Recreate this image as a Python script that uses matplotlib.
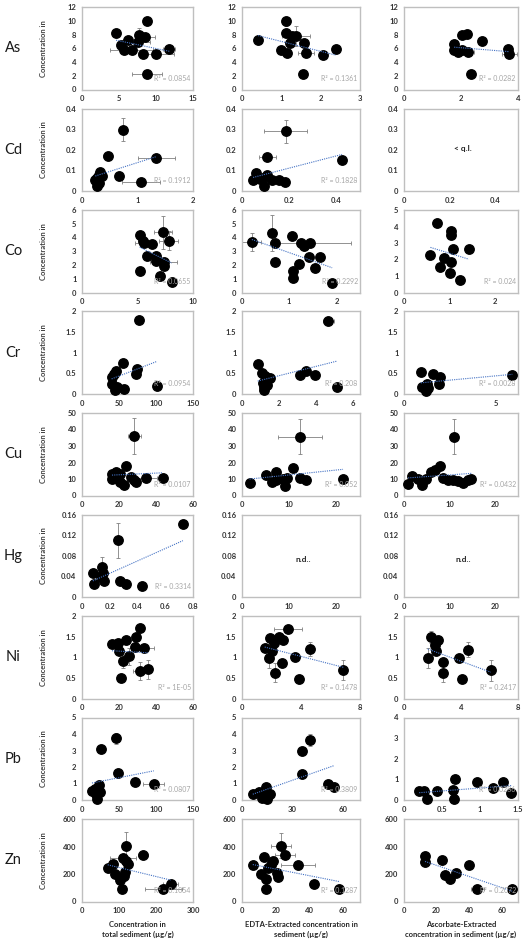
import numpy as np
import matplotlib.pyplot as plt

plt.rcParams['font.family'] = ['Lato', 'DejaVu Sans']

# ---- data ----
as_tot_x = [4.6, 8.8, 5.3, 6.2, 5.7, 6.7, 7.5, 7.7, 8.5, 8.3, 10.0, 11.8, 8.8]
as_tot_y = [8.2, 9.9, 6.5, 7.2, 5.8, 5.7, 6.9, 7.9, 7.7, 5.2, 5.1, 5.85, 2.3]
as_tot_xerr = [0, 0.3, 0, 0, 0, 2.9, 1.7, 0, 1.3, 0.5, 2.4, 0.8, 2.0]
as_tot_yerr = [0, 0.3, 0, 0, 0, 0, 0.5, 1.0, 0, 0, 0, 0, 0]
as_edta_x = [0.41, 1.11, 1.11, 1.28, 1.37, 1.21, 1.0, 1.15, 1.58, 1.62, 1.54, 2.05, 2.39]
as_edta_y = [7.2, 9.9, 8.2, 7.8, 7.8, 6.7, 5.75, 5.3, 6.8, 5.3, 2.3, 5.0, 5.9]
as_edta_xerr = [0, 0, 0, 0, 0.35, 0, 0, 0, 0.1, 0.2, 0, 0.1, 0.1]
as_edta_yerr = [0, 0.6, 0, 0, 1.5, 0, 0, 0, 0, 0, 0, 0, 0]
as_asc_x = [1.76, 1.76, 1.91, 2.03, 2.05, 2.2, 2.24, 2.75, 2.36, 3.64, 3.70]
as_asc_y = [6.6, 5.75, 5.4, 5.8, 7.9, 8.1, 5.4, 7.1, 2.3, 5.9, 5.1]
as_asc_xerr = [0, 0, 0, 0, 0, 0, 0.2, 0, 0, 0, 0.25]

cd_tot_x = [0.74, 0.46, 1.34, 0.33, 0.36, 0.27, 0.24, 0.30, 0.27, 0.66, 1.06, 0.30]
cd_tot_y = [0.297, 0.17, 0.159, 0.09, 0.074, 0.063, 0.053, 0.041, 0.023, 0.071, 0.046, 0.08]
cd_tot_xerr = [0.05, 0.08, 0.33, 0, 0, 0, 0, 0, 0, 0, 0.34, 0]
cd_tot_yerr = [0.055, 0, 0, 0, 0, 0, 0, 0, 0, 0, 0, 0]
cd_edta_x = [0.185, 0.108, 0.424, 0.061, 0.047, 0.09, 0.104, 0.125, 0.158, 0.182, 0.094, 0.075]
cd_edta_y = [0.29, 0.164, 0.151, 0.085, 0.052, 0.061, 0.077, 0.052, 0.052, 0.044, 0.023, 0.06]
cd_edta_xerr = [0.09, 0.035, 0, 0, 0, 0, 0, 0, 0, 0, 0, 0]
cd_edta_yerr = [0.056, 0, 0, 0, 0, 0, 0, 0, 0, 0, 0, 0]

co_tot_x = [5.2, 5.5, 5.6, 6.3, 7.3, 7.8, 5.9, 6.7, 6.7, 7.35, 7.35, 5.2, 7.0, 8.1]
co_tot_y = [4.2, 3.76, 3.6, 3.5, 4.4, 3.76, 2.69, 2.62, 2.26, 2.19, 1.9, 1.6, 1.19, 0.79]
co_tot_xerr = [0, 0, 0.8, 0, 0.8, 0.85, 0, 0, 0, 1.2, 0, 0, 0, 0]
co_tot_yerr = [0, 0, 0, 0, 1.2, 0.7, 0, 0, 0, 0, 0, 0, 0, 0]
co_edta_x = [0.21, 0.63, 0.70, 0.70, 1.06, 1.25, 1.32, 1.45, 1.43, 1.66, 1.2, 1.55, 1.07, 1.07, 1.91]
co_edta_y = [3.69, 4.33, 3.57, 2.19, 4.1, 3.62, 3.38, 3.62, 2.57, 2.57, 2.07, 1.79, 1.55, 1.07, 0.71]
co_edta_xerr = [0.2, 0, 0, 0, 0, 0, 0, 0.85, 0, 0, 0, 0, 0, 0, 0]
co_edta_yerr = [0.65, 1.3, 0, 0, 0, 0, 0, 0, 0, 0, 0, 0, 0, 0, 0]
co_asc_x = [0.73, 1.02, 1.02, 0.58, 0.88, 1.07, 1.42, 1.04, 0.80, 1.0, 1.22]
co_asc_y = [4.19, 3.73, 3.47, 2.26, 2.12, 2.62, 2.62, 1.85, 1.55, 1.17, 0.75]

cr_tot_x = [77, 56, 45.5, 43, 40, 74, 73.5, 41, 47, 44, 57, 101]
cr_tot_y = [1.80, 0.75, 0.55, 0.48, 0.42, 0.60, 0.49, 0.25, 0.16, 0.10, 0.11, 0.20]
cr_edta_x = [4.68, 0.85, 1.08, 1.26, 1.5, 1.14, 1.17, 1.17, 1.35, 3.15, 3.48, 3.96, 5.14]
cr_edta_y = [1.77, 0.72, 0.50, 0.44, 0.38, 0.27, 0.17, 0.09, 0.23, 0.45, 0.56, 0.45, 0.17]
cr_edta_xerr = [0.3, 0, 0, 0, 0, 0, 0, 0, 0, 0, 0, 0, 0]
cr_asc_x = [0.92, 1.55, 1.95, 1.92, 1.23, 0.96, 1.19, 1.32, 5.89]
cr_asc_y = [0.54, 0.48, 0.42, 0.25, 0.25, 0.17, 0.07, 0.15, 0.47]

cu_tot_x = [28.3, 24, 18.6, 16.2, 16.2, 20.7, 26.7, 27.9, 20.4, 22.9, 29.4, 34.6, 43.8, 19]
cu_tot_y = [36.1, 17.8, 14.3, 13.3, 9.8, 12.9, 11.2, 9.2, 8.2, 6.1, 8.2, 10.6, 10.8, 10.8]
cu_tot_xerr = [3.6, 0, 0, 0, 0, 0, 0, 0, 0, 0, 0, 6, 0, 0]
cu_tot_yerr = [10.7, 0, 0, 0, 0, 0, 0, 0, 0, 0, 0, 0, 0, 0]
cu_edta_x = [12.3, 1.6, 5.05, 7.2, 6.3, 7.3, 8.6, 9.1, 9.6, 10.7, 12.2, 13.6, 21.4]
cu_edta_y = [35.7, 7.6, 12.2, 14.3, 8.2, 9.6, 9.8, 5.5, 10.8, 16.7, 10.8, 9.6, 9.8]
cu_edta_xerr = [4.6, 0, 0, 0, 0, 0, 0, 0, 0, 0, 0, 0, 0]
cu_edta_yerr = [10.7, 0, 0, 0, 0, 0, 0, 0, 0, 0, 0, 0, 0]
cu_asc_x = [11, 0.9, 1.85, 3.1, 3.85, 4.8, 5.9, 6.7, 7.8, 8.5, 9.6, 10.7, 11.9, 13, 14.1, 14.8]
cu_asc_y = [35.7, 7.1, 11.6, 10.2, 6.1, 10.2, 14.3, 15.7, 17.8, 10.8, 9.2, 9.2, 8.8, 7.6, 9.2, 9.8]
cu_asc_yerr = [10.7, 0, 0, 0, 0, 0, 0, 0, 0, 0, 0, 0, 0, 0, 0, 0]

hg_tot_x = [0.727, 0.26, 0.078, 0.145, 0.15, 0.09, 0.162, 0.138, 0.277, 0.32, 0.436]
hg_tot_y = [0.142, 0.110, 0.046, 0.059, 0.046, 0.025, 0.031, 0.039, 0.031, 0.025, 0.021]
hg_tot_yerr = [0.008, 0.034, 0, 0.018, 0, 0, 0, 0, 0, 0, 0]

ni_tot_x = [31.5, 24, 29.4, 16.2, 19.3, 19.8, 28.8, 33.7, 25.2, 22.2, 31.5, 35.7, 21]
ni_tot_y = [1.72, 1.42, 1.50, 1.33, 1.34, 1.16, 1.25, 1.22, 1.02, 0.90, 0.66, 0.71, 0.50]
ni_tot_xerr = [0, 0, 2, 0, 0, 0, 0, 5, 0, 0, 4, 0, 0]
ni_tot_yerr = [0, 0, 0, 0, 0, 0, 0, 0, 0.2, 0.15, 0.22, 0.23, 0]
ni_edta_x = [3.13, 1.93, 2.52, 2.8, 1.54, 2.15, 2.06, 1.84, 2.68, 3.58, 4.6, 2.22, 3.88, 6.87]
ni_edta_y = [1.68, 1.46, 1.49, 1.42, 1.22, 1.34, 1.14, 0.98, 0.86, 1.0, 1.2, 0.63, 0.48, 0.70]
ni_edta_xerr = [0.94, 0, 0, 0, 0, 0, 0, 0, 0, 0, 0, 0, 0, 0]
ni_edta_yerr = [0, 0, 0, 0, 0, 0, 0, 0.23, 0, 0, 0.18, 0.22, 0, 0.24]
ni_asc_x = [1.86, 2.39, 2.15, 2.27, 1.67, 2.74, 2.74, 3.87, 4.49, 4.06, 6.09]
ni_asc_y = [1.49, 1.42, 1.30, 1.14, 0.98, 0.88, 0.63, 0.98, 1.18, 0.48, 0.68]
ni_asc_yerr = [0.15, 0, 0, 0, 0.25, 0, 0.22, 0, 0.18, 0, 0.25]

pb_tot_x = [46.4, 25.7, 48.6, 72, 97, 22.5, 13.5, 17, 24.8, 19.4, 20]
pb_tot_y = [3.74, 3.12, 1.66, 1.11, 0.95, 0.91, 0.55, 0.65, 0.51, 0.34, 0.06]
pb_tot_xerr = [0, 0, 0, 0, 14, 0, 0, 0, 0, 0, 0]
pb_tot_yerr = [0.35, 0, 0, 0, 0, 0, 0, 0, 0, 0, 0]
pb_edta_x = [40.5, 35.3, 35.7, 51.3, 54.8, 6.4, 9.9, 14.2, 11.9, 14.6, 16.6, 13.3]
pb_edta_y = [3.62, 2.98, 1.56, 0.95, 0.79, 0.34, 0.51, 0.79, 0.14, 0.04, 0.34, 0.34]
pb_edta_yerr = [0.35, 0, 0, 0, 0, 0, 0, 0, 0, 0, 0, 0]
pb_asc_x = [0.20, 0.26, 0.30, 0.44, 0.64, 0.67, 0.66, 0.96, 1.17, 1.30, 1.41]
pb_asc_y = [0.42, 0.46, 0.03, 0.42, 0.49, 1.01, 0.03, 0.88, 0.59, 0.89, 0.32]

zn_tot_x = [120, 165, 111, 120, 124, 84, 69.5, 90, 117, 113, 102, 108, 219, 240]
zn_tot_y = [407, 335, 318, 294, 270, 275, 246, 199, 211, 187, 158, 91, 91, 127]
zn_tot_xerr = [0, 14, 36, 0, 0, 0, 0, 0, 0, 0, 0, 0, 50, 20]
zn_tot_yerr = [95, 0, 0, 0, 0, 0, 0, 0, 0, 40, 0, 0, 0, 0]
zn_edta_x = [23, 25.5, 13.3, 18.5, 17.2, 6.4, 15.2, 33.3, 11.3, 21, 21.6, 14.2, 14.2, 42.5, 57.5]
zn_edta_y = [405, 336, 322, 293, 264, 269, 245, 269, 197, 209, 178, 161, 89, 130, 89]
zn_edta_xerr = [6, 6, 0, 0, 0, 0, 0, 10, 0, 0, 0, 0, 0, 0, 0]
zn_edta_yerr = [90, 0, 0, 0, 0, 0, 0, 0, 0, 0, 0, 0, 0, 0, 0]
zn_asc_x = [12.9, 12.9, 23.4, 40.1, 31.7, 25, 28.2, 44.9, 66.4]
zn_asc_y = [329, 288, 300, 269, 209, 190, 166, 94, 94]
zn_asc_xerr = [0, 0, 0, 0, 0, 0, 0, 4, 0]

elements = ['As', 'Cd', 'Co', 'Cr', 'Cu', 'Hg', 'Ni', 'Pb', 'Zn']

# (x, y, xerr, yerr) per panel, None = empty panel
panels = [
    [(as_tot_x, as_tot_y, as_tot_xerr, as_tot_yerr), (as_edta_x, as_edta_y, as_edta_xerr, as_edta_yerr), (as_asc_x, as_asc_y, as_asc_xerr, None)],
    [(cd_tot_x, cd_tot_y, cd_tot_xerr, cd_tot_yerr), (cd_edta_x, cd_edta_y, cd_edta_xerr, cd_edta_yerr), None],
    [(co_tot_x, co_tot_y, co_tot_xerr, co_tot_yerr), (co_edta_x, co_edta_y, co_edta_xerr, co_edta_yerr), (co_asc_x, co_asc_y, None, None)],
    [(cr_tot_x, cr_tot_y, None, None), (cr_edta_x, cr_edta_y, cr_edta_xerr, None), (cr_asc_x, cr_asc_y, None, None)],
    [(cu_tot_x, cu_tot_y, cu_tot_xerr, cu_tot_yerr), (cu_edta_x, cu_edta_y, cu_edta_xerr, cu_edta_yerr), (cu_asc_x, cu_asc_y, None, cu_asc_yerr)],
    [(hg_tot_x, hg_tot_y, None, hg_tot_yerr), None, None],
    [(ni_tot_x, ni_tot_y, ni_tot_xerr, ni_tot_yerr), (ni_edta_x, ni_edta_y, ni_edta_xerr, ni_edta_yerr), (ni_asc_x, ni_asc_y, None, ni_asc_yerr)],
    [(pb_tot_x, pb_tot_y, pb_tot_xerr, pb_tot_yerr), (pb_edta_x, pb_edta_y, None, pb_edta_yerr), (pb_asc_x, pb_asc_y, None, None)],
    [(zn_tot_x, zn_tot_y, zn_tot_xerr, zn_tot_yerr), (zn_edta_x, zn_edta_y, zn_edta_xerr, zn_edta_yerr), (zn_asc_x, zn_asc_y, zn_asc_xerr, None)],
]

r2_labels = [
    ['0.0854', '0.1361', '0.0282'],
    ['0.1912', '0.1828', None],
    ['0.0655', '0.2292', '0.024'],
    ['0.0954', '0.208', '0.0028'],
    ['0.0107', '0.052', '0.0432'],
    ['0.3314', None, None],
    ['1E-05', '0.1478', '0.2417'],
    ['0.0807', '0.3809', '0.0286'],
    ['0.1054', '0.1287', '0.2072'],
]
empty_labels = {(1, 2): '< q.l.', (5, 1): 'n.d..', (5, 2): 'n.d..'}

y_ticks = [
    [np.arange(0, 13, 2)] * 3,
    [np.arange(0, 0.41, 0.1)] * 3,
    [np.arange(0, 7, 1), np.arange(0, 7, 1), np.arange(0, 6, 1)],
    [np.arange(0, 2.01, 0.5)] * 3,
    [np.arange(0, 51, 10)] * 3,
    [np.arange(0, 0.161, 0.04)] * 3,
    [np.arange(0, 2.01, 0.5)] * 3,
    [np.arange(0, 6, 1), np.arange(0, 6, 1), np.arange(0, 5, 1)],
    [np.arange(0, 601, 200)] * 3,
]
x_max = [
    [15, 3, 4], [2, 0.5, 0.5], [10, 2.5, 2.5], [150, 6.4, 6.2], [60, 25, 25],
    [0.8, 25, 25], [60, 8, 8], [150, 70, 1.5], [300, 70, 70],
]
x_ticks = [
    [[0, 5, 10, 15], [0, 1, 2, 3], [0, 2, 4]],
    [[0, 1, 2], [0, 0.2, 0.4], [0, 0.2, 0.4]],
    [[0, 5, 10], [0, 1, 2], [0, 1, 2]],
    [[0, 50, 100, 150], [0, 2, 4, 6], [0, 5]],
    [[0, 20, 40, 60], [0, 10, 20], [0, 10, 20]],
    [[0, 0.2, 0.4, 0.6, 0.8], [0, 10, 20], [0, 10, 20]],
    [[0, 20, 40, 60], [0, 4, 8], [0, 4, 8]],
    [[0, 50, 100, 150], [0, 30, 60], [0, 0.5, 1, 1.5]],
    [[0, 100, 200, 300], [0, 20, 40, 60], [0, 20, 40, 60]],
]
x_titles = ['Concentration in\ntotal sediment (µg/g)',
            'EDTA-Extracted concentration in\nsediment (µg/g)',
            'Ascorbate-Extracted\nconcentration in sediment (µg/g)']

W, H = 532, 948
fig = plt.figure(figsize=(W / 100, H / 100), dpi=100)

col_left = [82, 242, 404]
col_width = [111, 118, 114]


def fmt(v):
    return f'{round(v, 4):g}'


for r, el in enumerate(elements):
    top = 7 + 101.5 * r
    h = 82.5
    for c in range(3):
        ax = fig.add_axes([col_left[c] / W, 1 - (top + h) / H, col_width[c] / W, h / H])
        yt = y_ticks[r][c]
        ax.set_ylim(0, yt[-1])
        ax.set_xlim(0, x_max[r][c])
        ax.set_yticks(yt)
        ax.set_yticklabels([fmt(v) for v in yt])
        ax.set_xticks(x_ticks[r][c])
        ax.set_xticklabels([fmt(v) for v in x_ticks[r][c]])
        ax.tick_params(length=0, pad=4, labelsize=5.5, labelcolor='#333333')
        for lab in ax.get_xticklabels() + ax.get_yticklabels():
            lab.set_fontweight('bold')
        for sp in ax.spines.values():
            sp.set_color('#BFBFBF')
            sp.set_linewidth(1.0)

        p = panels[r][c]
        if p is None:
            ax.text(0.52, 0.45 if r == 5 else 0.52, empty_labels[(r, c)], transform=ax.transAxes,
                    ha='center', va='center', fontsize=6, fontweight='bold', color='#262626')
            continue
        x, y, xe, ye = p
        ax.errorbar(x, y, xerr=xe, yerr=ye, fmt='none', ecolor='#808080',
                    elinewidth=0.6, capsize=1.3, capthick=0.6, zorder=2)
        ax.plot(x, y, 'o', color='black', ms=6.8, zorder=3, clip_on=False)
        k, b = np.polyfit(x, y, 1)
        xs = np.array([min(x), max(x)])
        ax.plot(xs, k * xs + b, linestyle=(0, (1, 1)), color='#4472C4', lw=0.8, zorder=4)
        ax.text(0.98, 0.13, 'R² = ' + r2_labels[r][c], transform=ax.transAxes,
                ha='right', va='center', fontsize=5, color='#A6A6A6', zorder=5)

    yc = 1 - (top + h / 2) / H
    fig.text(13 / W, yc, el, fontsize=10.5, ha='center', va='center', color='#1a1a1a')
    fig.text(43 / W, yc, 'Concentration in', rotation=90, fontsize=5.5,
             fontweight='bold', ha='center', va='center', color='#404040')

for c, t in enumerate(x_titles):
    fig.text((col_left[c] + col_width[c] / 2) / W, 1 - 921 / H, t, ha='center', va='top',
             fontsize=5.5, fontweight='bold', linespacing=1.4, color='#262626')

fig.savefig('out.png', dpi=100)
